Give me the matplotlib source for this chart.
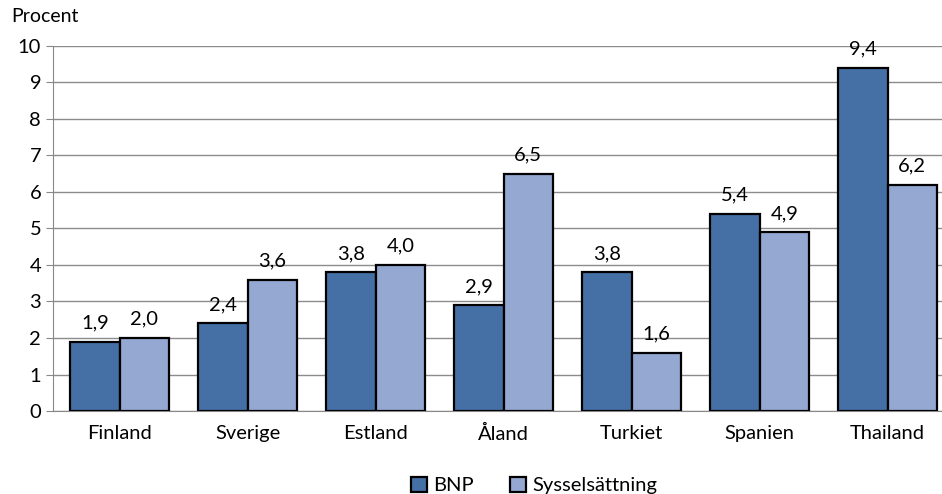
import matplotlib.pyplot as plt
import numpy as np

plt.rcParams['font.family'] = ['Lato', 'DejaVu Sans']

countries = ["Finland", "Sverige", "Estland", "Åland", "Turkiet", "Spanien", "Thailand"]
bnp = [1.9, 2.4, 3.8, 2.9, 3.8, 5.4, 9.4]
syss = [2.0, 3.6, 4.0, 6.5, 1.6, 4.9, 6.2]

fig = plt.figure(figsize=(9.42, 4.94), dpi=100)
ax = fig.add_axes([0.0563, 0.168, 0.9437, 0.739])

x = np.arange(len(countries))
w = 0.387
b1 = ax.bar(x - w / 2, bnp, w, color="#4470A6", edgecolor="black", linewidth=1.6, label="BNP", zorder=3)
b2 = ax.bar(x + w / 2, syss, w, color="#95A8D1", edgecolor="black", linewidth=1.6, label="Sysselsättning", zorder=3)

for bars, vals in ((b1, bnp), (b2, syss)):
    for r, v in zip(bars, vals):
        ax.text(r.get_x() + r.get_width() / 2, v + 0.28, f"{v:.1f}".replace(".", ","),
                ha="center", va="bottom", fontsize=14.5)

ax.set_xlim(-0.52, 6.425)
ax.set_ylim(0, 10)
ax.set_yticks(range(11))
ax.set_xticks(x)
ax.set_xticklabels(countries)
ax.tick_params(axis="y", labelsize=14.5, length=5, color="#888888", direction="out")
ax.tick_params(axis="x", labelsize=14.5, length=0, pad=10)
ax.grid(axis="y", color="#8c8c8c", linewidth=1, zorder=0)
for s in ("top", "right"):
    ax.spines[s].set_visible(False)
ax.spines["left"].set_color("#888888")
ax.spines["bottom"].set_color("#888888")

fig.text(0.012, 0.955, "Procent", fontsize=14)

ax.legend(loc="upper center", bbox_to_anchor=(0.541, -0.13), ncol=2, frameon=False,
          fontsize=14.5, handlelength=0.8, handleheight=0.8, columnspacing=1.8, handletextpad=0.3)

fig.savefig("out.png", dpi=100)
